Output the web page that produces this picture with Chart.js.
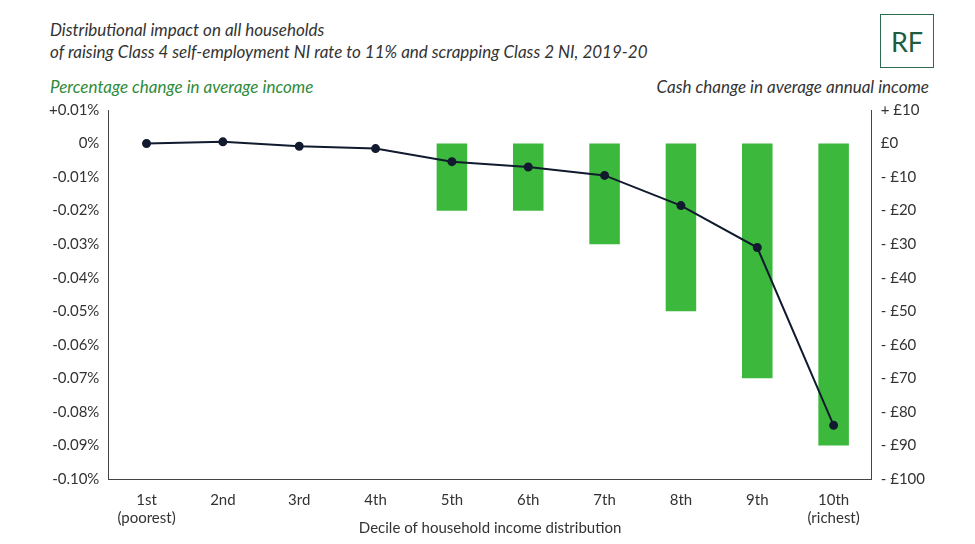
<!DOCTYPE html>
<html><head><meta charset="utf-8">
<script src="https://cdn.jsdelivr.net/npm/chart.js@4"></script>
<style>
body{margin:0;background:#fff;font-family:Lato,sans-serif;}
#wrap{position:relative;width:975px;height:544px;}
.t{position:absolute;font-style:italic;color:#333;font-size:17px;}
#logo{position:absolute;left:880px;top:14px;width:54px;height:54px;border:1.5px solid #2e6b4e;box-sizing:border-box;color:#1f5c3f;font-size:27px;display:flex;align-items:center;justify-content:center;}
canvas{position:absolute;left:0;top:0;}
</style></head><body>
<div id="wrap">
<div class="t" style="left:50px;top:19px;">Distributional impact on all households</div>
<div class="t" style="left:50px;top:41px;">of raising Class 4 self-employment NI rate to 11% and scrapping Class 2 NI, 2019-20</div>
<div class="t" style="left:50px;top:76px;color:#2e8b3a;">Percentage change in average income</div>
<div class="t" style="right:46px;top:76px;">Cash change in average annual income</div>
<div id="logo">RF</div>
<canvas id="c" width="975" height="544"></canvas>
</div>
<script>
const categories=[["1st","(poorest)"],"2nd","3rd","4th","5th","6th","7th","8th","9th",["10th","(richest)"]];
const pctChange=[0,0,0,0,-0.02,-0.02,-0.03,-0.05,-0.07,-0.09];
const cashChange=[0,0.5,-0.8,-1.5,-5.4,-7,-9.5,-18.5,-31,-84];
const leftTicks=[0.01,0,-0.01,-0.02,-0.03,-0.04,-0.05,-0.06,-0.07,-0.08,-0.09,-0.10];
const rightTicks=[10,0,-10,-20,-30,-40,-50,-60,-70,-80,-90,-100];
const tickFont={family:'Lato',size:15};
new Chart(document.getElementById('c'),{
 data:{labels:categories,datasets:[
  {type:'line',data:cashChange,yAxisID:'y2',borderColor:'#111a2e',backgroundColor:'#111a2e',borderWidth:2,pointRadius:3.5,tension:0,order:0},
  {type:'bar',data:pctChange,yAxisID:'y',backgroundColor:'#3cb83c',barPercentage:0.4,categoryPercentage:1,order:1}
 ]},
 options:{responsive:false,animation:false,
  layout:{padding:{left:46,right:47,top:110,bottom:3}},
  plugins:{legend:{display:false},tooltip:{enabled:false}},
  scales:{
   x:{grid:{display:false,drawTicks:false},border:{color:'#444'},ticks:{color:'#333',font:tickFont,padding:12},
      title:{display:true,text:'Decile of household income distribution',color:'#333',font:tickFont,padding:{top:-20}}},
   y:{position:'left',min:-0.10,max:0.01,afterBuildTicks:a=>{a.ticks=leftTicks.map(v=>({value:v}))},
      grid:{display:false,tickLength:6,drawOnChartArea:false},border:{color:'#444'},
      ticks:{color:'#333',font:tickFont,callback:v=>{const r=Math.round(v*100)/100;return r===0?'0%':(r>0?'+':'')+r.toFixed(2)+'%';}}},
   y2:{position:'right',min:-100,max:10,afterBuildTicks:a=>{a.ticks=rightTicks.map(v=>({value:v}))},
      grid:{display:false,tickLength:6,drawOnChartArea:false},border:{color:'#444'},
      ticks:{color:'#333',font:tickFont,callback:v=>v===0?'£0':(v>0?'+ £'+v:'- £'+(-v))}}
  }}
});
</script></body></html>
